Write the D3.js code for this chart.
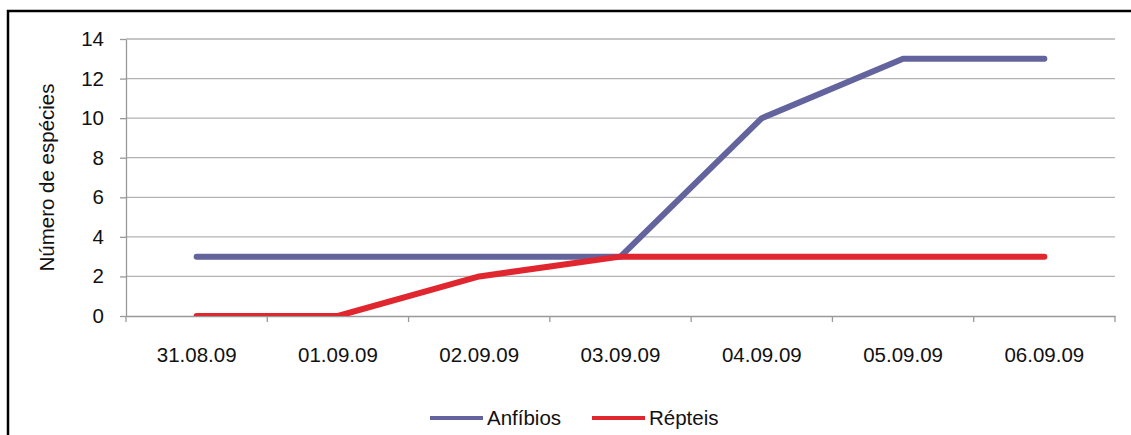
<!DOCTYPE html>
<html>
<head>
<meta charset="utf-8">
<script src="https://cdn.jsdelivr.net/npm/d3@7"></script>
<style>
  body { margin: 0; background: #fff; }
  text { font-family: "Liberation Sans", Arial, sans-serif; fill: #111; }
</style>
</head>
<body>
<div id="chart"></div>
<script>
const dates = ["31.08.09", "01.09.09", "02.09.09", "03.09.09", "04.09.09", "05.09.09", "06.09.09"];
const anfibios = [3, 3, 3, 3, 10, 13, 13];
const repteis = [0, 0, 2, 3, 3, 3, 3];
const yTicks = [0, 2, 4, 6, 8, 10, 12, 14];

const W = 1131, H = 435;
const margin = { top: 39, right: 16, bottom: 119, left: 126 },
      width = W - margin.left - margin.right,
      height = H - margin.top - margin.bottom;
const fs = "20.5px";

const root = d3.select("#chart").append("svg")
  .attr("width", W).attr("height", H);

// outer frame
root.append("path")
  .attr("d", `M8,${H} L8,11 L${W},11`)
  .attr("fill", "none").attr("stroke", "#000").attr("stroke-width", 2.5);

const svg = root.append("g").attr("transform", `translate(${margin.left},${margin.top})`);

const x = d3.scaleBand().domain(dates).range([0, width]);
const y = d3.scaleLinear().domain([0, 14]).range([height, 0]);

// gridlines
svg.append("g").selectAll("line")
  .data(yTicks.filter(d => d > 0))
  .enter().append("line")
  .attr("x1", 0).attr("x2", width)
  .attr("y1", d => y(d)).attr("y2", d => y(d))
  .attr("stroke", "#b3b3b3").attr("stroke-width", 1.3);

// y axis
const yAxis = svg.append("g")
  .call(d3.axisLeft(y).tickValues(yTicks).tickSize(6).tickPadding(16).tickSizeOuter(0));
yAxis.select(".domain").attr("stroke", "#999").attr("stroke-width", 1.3);
yAxis.selectAll(".tick line").attr("stroke", "#999").attr("stroke-width", 1.3);
yAxis.selectAll("text").style("font-size", fs);

// x axis
const xAxis = svg.append("g").attr("transform", `translate(0,${height})`)
  .call(d3.axisBottom(x).tickSize(0).tickPadding(31));
xAxis.select(".domain").attr("stroke", "#999").attr("stroke-width", 1.3);
xAxis.selectAll("text").style("font-size", fs);
xAxis.selectAll(".boundary")
  .data(d3.range(dates.length + 1))
  .enter().append("line")
  .attr("x1", i => i * x.step()).attr("x2", i => i * x.step())
  .attr("y1", 0).attr("y2", 6)
  .attr("stroke", "#999").attr("stroke-width", 1.3);

// y label
svg.append("text")
  .attr("transform", `translate(${47 - margin.left},${height / 2}) rotate(-90)`)
  .attr("text-anchor", "middle")
  .attr("dy", "0.35em")
  .style("font-size", fs)
  .text("Número de espécies");

svg.append("clipPath").attr("id", "plotclip")
  .append("rect").attr("x", -10).attr("y", -10).attr("width", width + 20).attr("height", height + 10);

const line = d3.line()
  .x((d, i) => x(dates[i]) + x.bandwidth() / 2)
  .y(d => y(d));

const series = [
  { name: "Anfíbios", values: anfibios, color: "#63639e" },
  { name: "Répteis", values: repteis, color: "#e0262f" }
];

const lines = svg.append("g").attr("clip-path", "url(#plotclip)");
series.forEach(s => {
  lines.append("path")
    .attr("d", line(s.values))
    .attr("fill", "none")
    .attr("stroke", s.color)
    .attr("stroke-width", 6)
    .attr("stroke-linecap", "round")
    .attr("stroke-linejoin", "round");
});

// legend
const legend = root.append("g").attr("transform", "translate(430,418)");
const legendPos = [0, 162];
series.forEach((s, i) => {
  const g = legend.append("g").attr("transform", `translate(${legendPos[i]},0)`);
  g.append("line").attr("x1", 0).attr("x2", 53).attr("y1", 0).attr("y2", 0)
    .attr("stroke", s.color).attr("stroke-width", 4);
  g.append("text").attr("x", 57).attr("dy", "0.35em")
    .style("font-size", fs).text(s.name);
});
</script>
</body>
</html>
